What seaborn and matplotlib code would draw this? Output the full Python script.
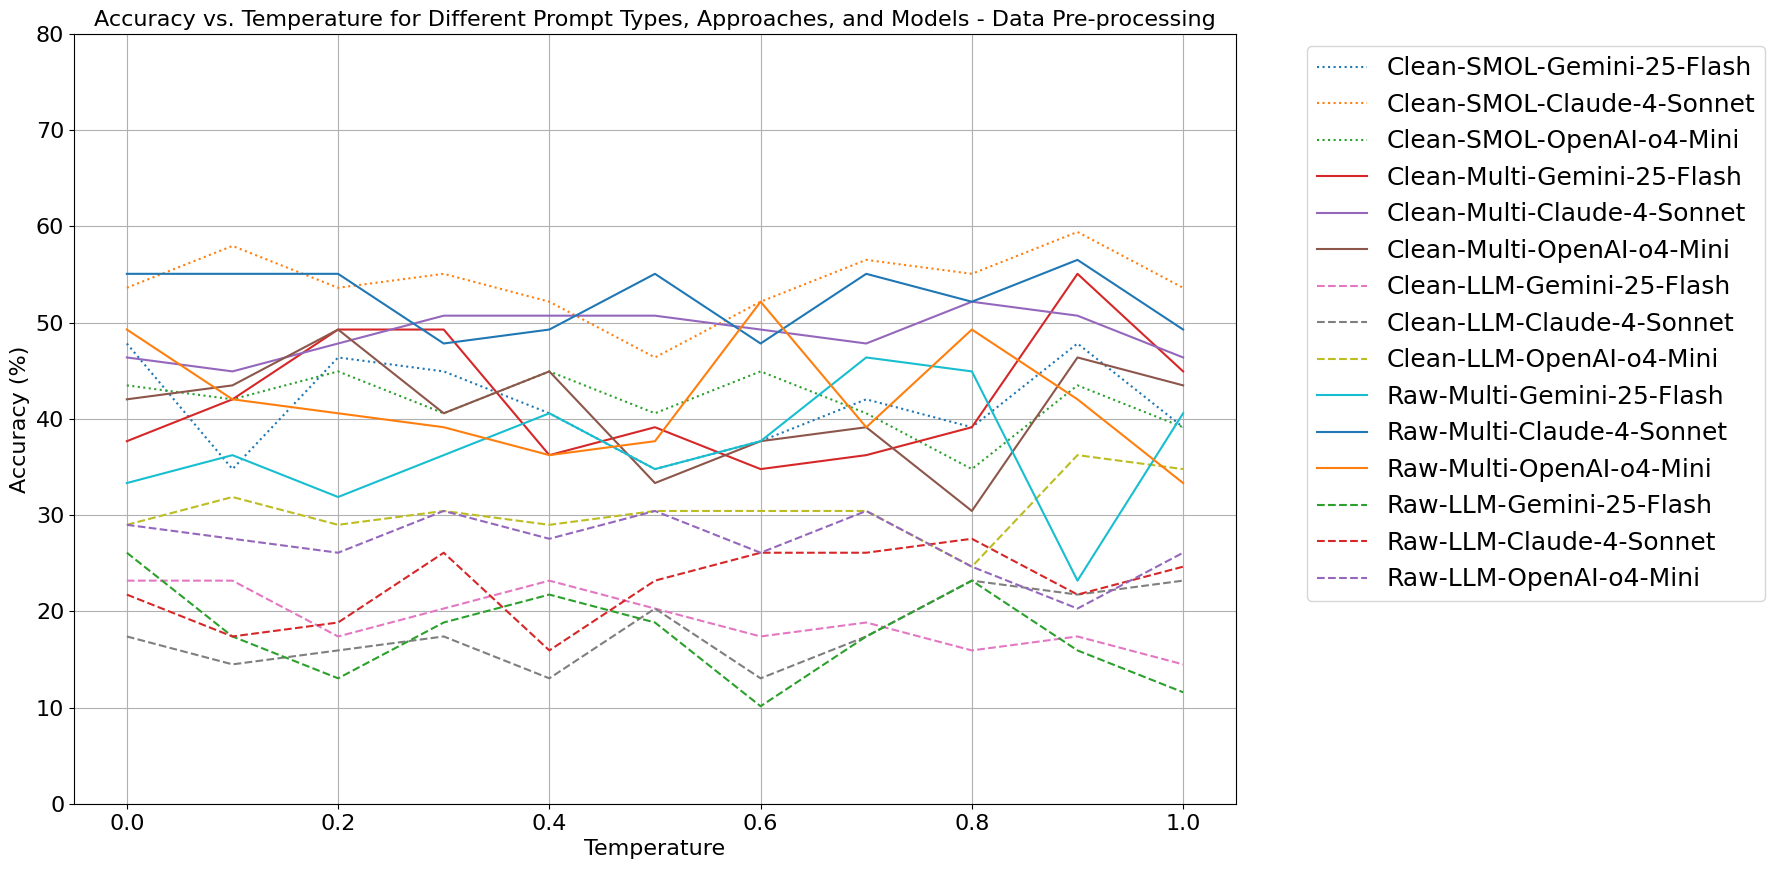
import matplotlib
matplotlib.use("Agg")
import matplotlib.pyplot as plt
import seaborn as sns
import pandas as pd

temperatures = [0.0, 0.1, 0.2, 0.3, 0.4, 0.5, 0.6, 0.7, 0.8, 0.9, 1.0]

clean_smol_gemini = [47.83, 34.78, 46.38, 44.93, 40.58, 34.78, 37.68, 42.03, 39.13, 47.83, 39.13]
clean_smol_claude = [53.62, 57.97, 53.62, 55.07, 52.17, 46.38, 52.17, 56.52, 55.07, 59.42, 53.62]
clean_smol_o4 = [43.48, 42.03, 44.93, 40.58, 44.93, 40.58, 44.93, 40.58, 34.78, 43.48, 39.13]
clean_multi_gemini = [37.68, 42.03, 49.28, 49.28, 36.23, 39.13, 34.78, 36.23, 39.13, 55.07, 44.93]
clean_multi_claude = [46.38, 44.93, 47.83, 50.72, 50.72, 50.72, 49.28, 47.83, 52.17, 50.72, 46.38]
clean_multi_o4 = [42.03, 43.48, 49.28, 40.58, 44.93, 33.33, 37.68, 39.13, 30.43, 46.38, 43.48]
clean_llm_gemini = [23.19, 23.19, 17.39, 20.29, 23.19, 20.29, 17.39, 18.84, 15.94, 17.39, 14.49]
clean_llm_claude = [17.39, 14.49, 15.94, 17.39, 13.04, 20.29, 13.04, 17.39, 23.19, 21.74, 23.19]
clean_llm_o4 = [28.99, 31.88, 28.99, 30.43, 28.99, 30.43, 30.43, 30.43, 24.64, 36.23, 34.78]
raw_multi_gemini = [33.33, 36.23, 31.88, 36.23, 40.58, 34.78, 37.68, 46.38, 44.93, 23.19, 40.58]
raw_multi_claude = [55.07, 55.07, 55.07, 47.83, 49.28, 55.07, 47.83, 55.07, 52.17, 56.52, 49.28]
raw_multi_o4 = [49.28, 42.03, 40.58, 39.13, 36.23, 37.68, 52.17, 39.13, 49.28, 42.03, 33.33]
raw_llm_gemini = [26.09, 17.39, 13.04, 18.84, 21.74, 18.84, 10.14, 17.39, 23.19, 15.94, 11.59]
raw_llm_claude = [21.74, 17.39, 18.84, 26.09, 15.94, 23.19, 26.09, 26.09, 27.54, 21.74, 24.64]
raw_llm_o4 = [28.99, 27.54, 26.09, 30.43, 27.54, 30.43, 26.09, 30.43, 24.64, 20.29, 26.09]

series_names = [
    "Clean-SMOL-Gemini-25-Flash", "Clean-SMOL-Claude-4-Sonnet", "Clean-SMOL-OpenAI-o4-Mini",
    "Clean-Multi-Gemini-25-Flash", "Clean-Multi-Claude-4-Sonnet", "Clean-Multi-OpenAI-o4-Mini",
    "Clean-LLM-Gemini-25-Flash", "Clean-LLM-Claude-4-Sonnet", "Clean-LLM-OpenAI-o4-Mini",
    "Raw-Multi-Gemini-25-Flash", "Raw-Multi-Claude-4-Sonnet", "Raw-Multi-OpenAI-o4-Mini",
    "Raw-LLM-Gemini-25-Flash", "Raw-LLM-Claude-4-Sonnet", "Raw-LLM-OpenAI-o4-Mini",
]
series_values = [
    clean_smol_gemini, clean_smol_claude, clean_smol_o4,
    clean_multi_gemini, clean_multi_claude, clean_multi_o4,
    clean_llm_gemini, clean_llm_claude, clean_llm_o4,
    raw_multi_gemini, raw_multi_claude, raw_multi_o4,
    raw_llm_gemini, raw_llm_claude, raw_llm_o4,
]

rows = []
for name, vals in zip(series_names, series_values):
    for t, v in zip(temperatures, vals):
        rows.append({"Temperature": t, "Accuracy": v, "Series": name})
df = pd.DataFrame(rows)

palette = plt.rcParams['axes.prop_cycle'].by_key()['color']

def style_for(name):
    if "-SMOL-" in name:
        return ":"
    if "-Multi-" in name:
        return "-"
    return "--"

fig = plt.figure(figsize=(17.75, 8.69), dpi=100)
ax = fig.add_axes([0.0417, 0.075, 0.6546, 0.886])

for i, name in enumerate(series_names):
    sub = df[df["Series"] == name]
    sns.lineplot(data=sub, x="Temperature", y="Accuracy", ax=ax,
                 color=palette[i % len(palette)], linestyle=style_for(name),
                 label=name, linewidth=1.5)

ax.set_ylim(0, 80)
ax.set_xlim(-0.05, 1.05)
ax.grid(True)
ax.set_xlabel("Temperature", fontsize=16)
ax.set_ylabel("Accuracy (%)", fontsize=16)
ax.set_title("Accuracy vs. Temperature for Different Prompt Types, Approaches, and Models - Data Pre-processing",
             fontsize=16)
ax.tick_params(labelsize=16)
ax.legend(bbox_to_anchor=(1.05, 1), loc="upper left", fontsize=18)

fig.savefig("out.png", dpi=100)
